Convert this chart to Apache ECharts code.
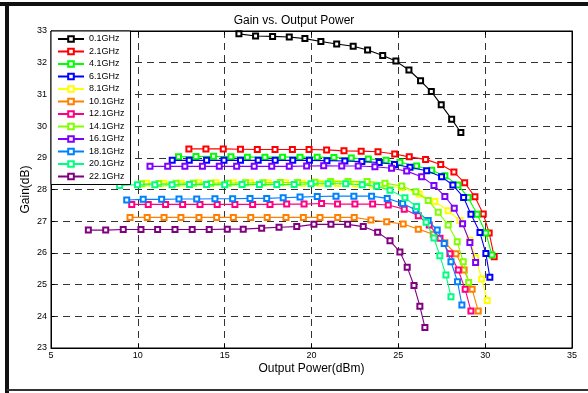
<!DOCTYPE html>
<html style="height: 100%">
<head>
<meta charset="utf-8">
<script src="https://cdn.jsdelivr.net/npm/echarts@6/dist/echarts.min.js"></script>
</head>
<body style="height: 100%; margin: 0; background: #fff;">
<div id="container" style="width: 588px; height: 393px;"></div>
<script>
// legend names and line colours
var freqNames = ['0.1GHz', '2.1GHz', '4.1GHz', '6.1GHz', '8.1GHz', '10.1GHz', '12.1GHz', '14.1GHz', '16.1GHz', '18.1GHz', '20.1GHz', '22.1GHz'];
var freqColors = ['#000000', '#ff0000', '#00ff00', '#0000ff', '#ffff00', '#ff8000', '#ff0080', '#80ff00', '#8000ff', '#0080ff', '#00ff80', '#800080'];

var xTicks = [5, 10, 15, 20, 25, 30, 35];
var yTicks = [23, 24, 25, 26, 27, 28, 29, 30, 31, 32, 33];

// output power (dBm) / gain (dB) read per frequency
var pout01 = [15.82, 16.78, 17.76, 18.72, 19.62, 20.54, 21.45, 22.40, 23.23, 24.10, 24.86, 25.61, 26.28, 26.90, 27.47, 28.07, 28.60];
var gain01 = [32.91, 32.84, 32.83, 32.81, 32.76, 32.67, 32.59, 32.52, 32.40, 32.23, 32.05, 31.77, 31.43, 31.09, 30.67, 30.22, 29.80];

var pout21 = [12.94, 13.92, 14.92, 15.91, 16.88, 17.90, 18.90, 19.86, 20.87, 21.87, 22.86, 23.83, 24.79, 25.63, 26.57, 27.44, 28.20, 28.82, 29.41, 29.89, 30.23, 30.52];
var gain21 = [29.28, 29.28, 29.28, 29.27, 29.26, 29.26, 29.26, 29.26, 29.25, 29.22, 29.21, 29.19, 29.12, 29.03, 28.95, 28.79, 28.55, 28.21, 27.77, 27.23, 26.63, 25.88];

var pout41 = [12.34, 13.35, 14.36, 15.36, 16.31, 17.32, 18.33, 19.34, 20.33, 21.29, 22.29, 23.27, 24.29, 25.09, 26.05, 26.92, 27.68, 28.43, 29.02, 29.54, 30.04, 30.39];
var gain41 = [29.03, 29.04, 29.05, 29.03, 29.02, 29.02, 29.02, 29.02, 29.02, 29.01, 28.99, 28.96, 28.92, 28.86, 28.74, 28.61, 28.43, 28.14, 27.75, 27.22, 26.63, 25.93];

var pout61 = [11.98, 12.96, 13.96, 14.96, 15.91, 16.93, 17.91, 18.92, 19.88, 20.89, 21.92, 22.90, 23.90, 24.78, 25.67, 26.63, 27.49, 28.14, 28.76, 29.18, 29.70, 30.04, 30.27];
var gain61 = [28.92, 28.92, 28.92, 28.92, 28.92, 28.92, 28.92, 28.92, 28.92, 28.91, 28.90, 28.88, 28.85, 28.79, 28.70, 28.59, 28.40, 28.14, 27.75, 27.22, 26.64, 25.98, 25.23];

var pout81 = [10.5, 11.5, 12.5, 13.5, 14.5, 15.5, 16.5, 17.5, 18.5, 19.5, 20.5, 21.5, 22.5, 23.5, 24.3, 25.2, 26.2, 27.1, 27.87, 28.55, 29.12, 29.45, 29.80, 30.12];
var gain81 = [28.20, 28.20, 28.20, 28.21, 28.21, 28.21, 28.21, 28.21, 28.21, 28.20, 28.20, 28.19, 28.17, 28.14, 28.10, 28.06, 27.86, 27.62, 27.33, 27.02, 26.40, 25.84, 25.18, 24.50];

var pout101 = [9.55, 10.54, 11.51, 12.48, 13.52, 14.54, 15.50, 16.50, 17.45, 18.53, 19.53, 20.49, 21.51, 22.46, 23.42, 24.33, 25.28, 26.15, 27.01, 27.68, 28.32, 28.79, 29.25, 29.60];
var gain101 = [27.12, 27.12, 27.12, 27.12, 27.12, 27.12, 27.12, 27.12, 27.12, 27.12, 27.12, 27.12, 27.12, 27.12, 27.04, 26.98, 26.91, 26.75, 26.59, 26.32, 25.97, 25.46, 24.85, 24.17];

var pout121 = [9.65, 10.60, 11.60, 12.58, 13.58, 14.57, 15.59, 16.61, 17.61, 18.57, 19.57, 20.58, 21.50, 22.50, 23.52, 24.42, 25.34, 26.15, 26.78, 27.40, 27.97, 28.45, 28.85, 29.18];
var gain121 = [27.53, 27.53, 27.53, 27.53, 27.53, 27.53, 27.53, 27.53, 27.53, 27.54, 27.54, 27.56, 27.54, 27.54, 27.54, 27.51, 27.38, 27.17, 26.88, 26.46, 25.97, 25.46, 24.85, 24.17];

var pout141 = [10.2, 11.2, 12.2, 13.2, 14.2, 15.2, 16.2, 17.2, 18.2, 19.2, 20.2, 21.1, 22.1, 23.2, 24.23, 25.19, 26.01, 26.72, 27.30, 27.87, 28.39, 28.74, 29.05];
var gain141 = [28.18, 28.19, 28.20, 28.20, 28.20, 28.20, 28.21, 28.21, 28.22, 28.22, 28.23, 28.25, 28.25, 28.25, 28.20, 28.11, 27.93, 27.65, 27.28, 26.88, 26.35, 25.72, 25.07];

var pout161 = [10.70, 11.72, 12.71, 13.72, 14.69, 15.69, 16.70, 17.71, 18.72, 19.72, 20.70, 21.74, 22.69, 23.65, 24.61, 25.48, 26.34, 27.05, 27.68, 28.22, 28.70, 29.12, 29.45];
var gain161 = [28.73, 28.73, 28.73, 28.73, 28.73, 28.73, 28.73, 28.73, 28.73, 28.74, 28.75, 28.74, 28.74, 28.72, 28.67, 28.58, 28.40, 28.13, 27.78, 27.41, 26.92, 26.33, 25.70];

var pout181 = [9.36, 10.31, 11.37, 12.37, 13.39, 14.44, 15.46, 16.46, 17.42, 18.37, 19.34, 20.33, 21.41, 22.44, 23.46, 24.36, 25.25, 26.01, 26.72, 27.24, 27.64, 28.03, 28.41, 28.66];
var gain181 = [27.67, 27.69, 27.69, 27.70, 27.70, 27.71, 27.71, 27.72, 27.72, 27.74, 27.76, 27.78, 27.79, 27.79, 27.79, 27.72, 27.56, 27.35, 27.02, 26.72, 26.30, 25.72, 25.09, 24.36];

var pout201 = [8.95, 9.98, 10.98, 11.97, 12.97, 13.96, 15.00, 16.00, 17.00, 18.00, 19.00, 19.97, 20.96, 21.97, 22.92, 23.75, 24.52, 25.38, 26.05, 26.60, 27.05, 27.39, 27.74, 28.03];
var gain201 = [28.13, 28.15, 28.15, 28.15, 28.16, 28.16, 28.15, 28.16, 28.16, 28.16, 28.16, 28.18, 28.18, 28.18, 28.15, 28.10, 27.98, 27.74, 27.46, 26.97, 26.47, 25.91, 25.30, 24.62];

var pout221 = [7.15, 8.15, 9.16, 10.18, 11.14, 12.14, 13.13, 14.11, 15.15, 16.07, 17.13, 18.13, 19.15, 20.14, 21.12, 22.08, 22.98, 23.81, 24.52, 25.09, 25.51, 25.90, 26.24, 26.53];
var gain221 = [26.72, 26.72, 26.74, 26.74, 26.74, 26.74, 26.74, 26.74, 26.75, 26.75, 26.78, 26.81, 26.83, 26.90, 26.90, 26.90, 26.83, 26.65, 26.38, 26.03, 25.55, 24.97, 24.32, 23.65];

var poutList = [pout01, pout21, pout41, pout61, pout81, pout101, pout121, pout141, pout161, pout181, pout201, pout221];
var gainList = [gain01, gain21, gain41, gain61, gain81, gain101, gain121, gain141, gain161, gain181, gain201, gain221];

var chart = echarts.init(document.getElementById('container'));

function zip(xs, ys) {
    var out = [];
    for (var i = 0; i < xs.length; i++) out.push([xs[i], ys[i]]);
    return out;
}

var series = freqNames.map(function (name, i) {
    return {
        name: name,
        type: 'line',
        data: zip(poutList[i], gainList[i]),
        symbol: 'emptyRect',
        symbolSize: 5,
        showSymbol: true,
        color: freqColors[i],
        lineStyle: { width: 1.1, color: freqColors[i] },
        itemStyle: { color: freqColors[i], borderWidth: 1.1 },
        emphasis: { disabled: true },
        z: 3 + i
    };
});

var gridDash = { color: '#333', width: 1, type: [7, 5] };
var font = 'Liberation Sans, Arial, sans-serif';

var option = {
    animation: false,
    backgroundColor: '#fff',
    title: {
        text: 'Gain vs. Output Power',
        left: 'center',
        top: 10,
        textStyle: { fontSize: 12, fontWeight: 'normal', color: '#000', fontFamily: font }
    },
    legend: {
        orient: 'vertical',
        left: 51,
        top: 31,
        data: freqNames,
        backgroundColor: '#fff',
        borderColor: '#000',
        borderWidth: 1,
        borderRadius: 0,
        padding: [3, 6, 3, 6],
        itemGap: 2.5,
        itemWidth: 26,
        itemHeight: 7,
        textStyle: { fontSize: 9, color: '#000', fontFamily: font, lineHeight: 10 },
        selectedMode: false,
        z: 20
    },
    grid: {
        left: 51,
        top: 31,
        right: 16,
        bottom: 45,
        show: true,
        borderColor: '#000',
        borderWidth: 1
    },
    xAxis: [{
        type: 'value',
        min: xTicks[0],
        max: xTicks[xTicks.length - 1],
        interval: 5,
        name: 'Output Power(dBm)',
        nameLocation: 'middle',
        nameGap: 15,
        nameMoveOverlap: false,
        nameTextStyle: { fontSize: 12, color: '#000', fontFamily: font },
        axisLine: { lineStyle: { color: '#000' } },
        axisTick: { inside: true, length: 4, lineStyle: { color: '#000' } },
        axisLabel: { fontSize: 9, color: '#000', fontFamily: font, margin: 3 },
        splitLine: { show: true, lineStyle: gridDash }
    }, {
        type: 'value',
        position: 'top',
        min: xTicks[0],
        max: xTicks[xTicks.length - 1],
        interval: 5,
        axisLine: { lineStyle: { color: '#000' } },
        axisTick: { inside: true, length: 4, lineStyle: { color: '#000' } },
        axisLabel: { show: false },
        splitLine: { show: false }
    }],
    yAxis: [{
        type: 'value',
        min: yTicks[0],
        max: yTicks[yTicks.length - 1],
        interval: 1,
        name: 'Gain(dB)',
        nameLocation: 'middle',
        nameGap: 19,
        nameMoveOverlap: false,
        nameTextStyle: { fontSize: 12, color: '#000', fontFamily: font },
        axisLine: { lineStyle: { color: '#000' } },
        axisTick: { inside: true, length: 4, lineStyle: { color: '#000' } },
        axisLabel: { fontSize: 9, color: '#000', fontFamily: font, margin: 4 },
        splitLine: { show: true, lineStyle: gridDash }
    }, {
        type: 'value',
        position: 'right',
        min: yTicks[0],
        max: yTicks[yTicks.length - 1],
        interval: 1,
        axisLine: { lineStyle: { color: '#000' } },
        axisTick: { inside: true, length: 4, lineStyle: { color: '#000' } },
        axisLabel: { show: false },
        splitLine: { show: false }
    }],
    graphic: [
        // the dark figure frame round the picture
        { type: 'line', shape: { x1: 0, y1: 4, x2: 588, y2: 4 }, style: { stroke: '#111', lineWidth: 4 }, z: 100 },
        { type: 'line', shape: { x1: 7, y1: 2, x2: 7, y2: 393 }, style: { stroke: '#111', lineWidth: 4 }, z: 100 },
        { type: 'line', shape: { x1: 7, y1: 390, x2: 588, y2: 390 }, style: { stroke: '#333', lineWidth: 2 }, z: 100 }
    ],
    series: series
};

chart.setOption(option);
</script>
</body>
</html>
